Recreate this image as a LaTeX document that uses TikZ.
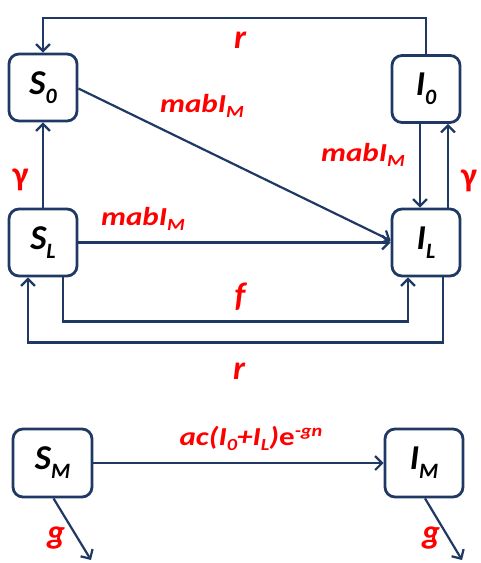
\documentclass[tikz,border=0pt]{standalone}
\usepackage{fontspec}
\setmainfont{Carlito}
\newfontfamily\ratefont[FakeStretch=1.2]{Carlito}
\usetikzlibrary{arrows.meta}
\definecolor{navy}{RGB}{31,56,100}
\definecolor{ratered}{RGB}{255,0,0}
% state name with lowered subscript
\newcommand{\statesub}[2]{#1\raisebox{-9bp}{\fontsize{22}{22}\selectfont #2}}
% rate text with lowered / raised small parts
\newcommand{\ratesub}[2]{#1\raisebox{-5bp}{\fontsize{17}{17}\selectfont #2}}
\newcommand{\ratesup}[1]{\raisebox{9bp}{\fontsize{17}{17}\selectfont #1}}
\tikzset{
  box/.style={draw=navy, line width=2.8bp, rounded corners=10bp,
    minimum width=68bp, minimum height=67bp, inner sep=0pt,
    font=\fontsize{35}{35}\selectfont\bfseries\itshape},
  flow/.style={draw=navy, line width=2.2bp,
    -{Straight Barb[length=7bp,width=14bp,line width=2.2bp]}},
  rate/.style={text=ratered, inner sep=0pt,
    font=\ratefont\fontsize{26}{26}\selectfont\bfseries\itshape},
  letterrate/.style={text=ratered, inner sep=0pt,
    font=\fontsize{34}{34}\selectfont\bfseries\itshape},
}
\begin{document}
\begin{tikzpicture}[x=1bp, y=-1bp]
\useasboundingbox (0,0) rectangle (481,563);

% compartments
\node[box] (S0) at (43,87.5) {\statesub{S}{0}};
\node[box] (SL) at (43,242.5) {\statesub{S}{L}};
\node[box] (I0) at (426,89) {\statesub{I}{0}};
\node[box] (IL) at (426,242.5) {\statesub{I}{L}};
\node[box, minimum width=79bp, minimum height=68bp] (SM) at (52.5,463) {\statesub{S}{M}};
\node[box, minimum width=78bp, minimum height=68bp] (IM) at (424,463) {\statesub{I}{M}};

% loose ends of the loss arrows
\coordinate (gS) at (91,560);
\coordinate (gI) at (462,560);

% transitions
\draw[flow] (I0.north) -- ++(0,-36) -| (S0.north);
\draw[flow] ([yshift=-1bp]S0.east) -- ([yshift=2bp]IL.west);
\draw[flow] (SL.east) -- (IL.west);
\draw[flow] (SL.north) -- (S0.south);
\draw[flow] ([xshift=-6bp]I0.south) -- ([xshift=-6bp]IL.north);
\draw[flow] ([xshift=22bp]IL.north) -- ([xshift=22bp]I0.south);
\draw[flow] ([xshift=20bp]SL.south) -- ++(0,44) -| ([xshift=-18bp]IL.south);
\draw[flow] ([xshift=17bp]IL.south) -- ++(0,65) -| ([xshift=-15bp]SL.south);
\draw[flow] (SM.east) -- (IM.west);
\draw[flow] ([xshift=1bp]SM.south) -- (gS);
\draw[flow] ([xshift=1bp]IM.south) -- (gI);

% rates
\node[letterrate] (rTop) at (240,40) {r};
\node[rate] (rDiag) at (202,106) {\ratesub{mabI}{M}};
\node[rate] (rSL) at (143,219) {\ratesub{mabI}{M}};
\node[rate] (rI0) at (363,155) {\ratesub{mabI}{M}};
\node[letterrate] (gamS) at (20.5,180) {\upshape γ};
\node[letterrate] (gamI) at (469,181) {\upshape γ};
\node[letterrate] (fRate) at (240,297) {f};
\node[letterrate] (rBot) at (239,371) {r};
\node[rate] (acRate) at (251,438) {ac(\ratesub{I}{0}+\ratesub{I}{L})\upshape e\itshape\ratesup{-gn}};
\node[letterrate] (gSM) at (56,538) {g};
\node[letterrate] (gIM) at (431,538) {g};
\end{tikzpicture}
\end{document}
